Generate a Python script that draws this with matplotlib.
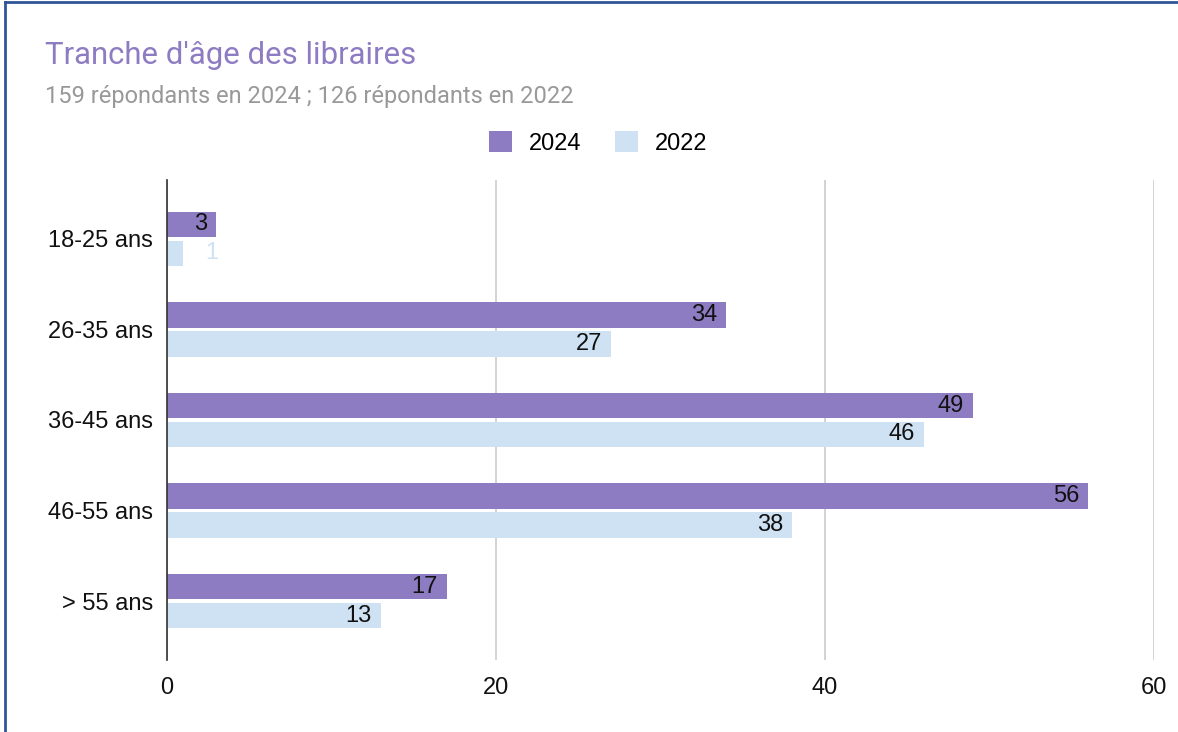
import matplotlib
matplotlib.use("Agg")
import matplotlib.pyplot as plt
from matplotlib.lines import Line2D
from matplotlib.patches import Patch

# Données
categories = ["18-25 ans", "26-35 ans", "36-45 ans", "46-55 ans", "> 55 ans"]
vals_2024 = [3, 34, 49, 56, 17]
vals_2022 = [1, 27, 46, 38, 13]
series_names = ["2024", "2022"]
x_ticks = [0, 20, 40, 60]

col_2024 = "#8e7cc3"
col_2022 = "#cfe2f3"

plt.rcParams["font.family"] = ["Liberation Sans", "DejaVu Sans"]
title_font = ["Roboto", "DejaVu Sans"]

fig = plt.figure(figsize=(11.78, 7.32), dpi=100)
ax = fig.add_axes([167 / 1178, 1 - 660 / 732, (1154 - 167) / 1178, 480 / 732])

pos = list(range(len(categories)))
h = 0.28
off = 0.16
ax.barh([p - off for p in pos], vals_2024, height=h, color=col_2024, zorder=3)
ax.barh([p + off for p in pos], vals_2022, height=h, color=col_2022, zorder=3)

# Étiquettes de valeurs
for p, v in zip(pos, vals_2024):
    ax.text(v - 0.55, p - off, str(v), ha="right", va="center", fontsize=17, color="#111111", zorder=4)
for p, v in zip(pos, vals_2022):
    if v < 2:
        ax.text(v + 1.75, p + off, str(v), ha="center", va="center", fontsize=17, color=col_2022, zorder=4)
    else:
        ax.text(v - 0.55, p + off, str(v), ha="right", va="center", fontsize=17, color="#111111", zorder=4)

# Axes
ax.set_xlim(0, 60)
ax.set_ylim(4.65, -0.65)
ax.set_yticks(pos)
ax.set_yticklabels(categories, fontsize=17, color="#111111")
ax.set_xticks(x_ticks)
ax.set_xticklabels([str(t) for t in x_ticks], fontsize=17, color="#111111")
ax.tick_params(length=0, pad=10)
ax.tick_params(axis="x", pad=12)
ax.grid(axis="x", color="#cccccc", linewidth=1.2, zorder=0)
for s in ["top", "right", "bottom"]:
    ax.spines[s].set_visible(False)
ax.spines["left"].set_color("#333333")
ax.spines["left"].set_linewidth(1.2)
ax.spines["left"].set_zorder(5)

# Titre et sous-titre
fig.text(45 / 1178, 1 - 55 / 732, "Tranche d'âge des libraires", fontsize=22.4, color=col_2024,
         va="center", ha="left", family=title_font)
fig.text(45 / 1178, 1 - 96 / 732, "159 répondants en 2024 ; 126 répondants en 2022", fontsize=17,
         color="#999999", va="center", ha="left", family=title_font)

# Légende
handles = [Patch(facecolor=col_2024), Patch(facecolor=col_2022)]
fig.legend(handles, series_names, loc="center", bbox_to_anchor=(598 / 1178, 1 - 143 / 732), ncol=2,
           frameon=False, fontsize=17, handlelength=1.0, handleheight=1.0, columnspacing=1.4,
           handletextpad=0.7)

# Cadre
fig.add_artist(Line2D([5 / 1178, 5 / 1178], [0, 1 - 2 / 732], transform=fig.transFigure, color="#2f5597", linewidth=2))
fig.add_artist(Line2D([5 / 1178, 1], [1 - 2 / 732, 1 - 2 / 732], transform=fig.transFigure, color="#2f5597", linewidth=2))

fig.savefig("out.png", dpi=100)
